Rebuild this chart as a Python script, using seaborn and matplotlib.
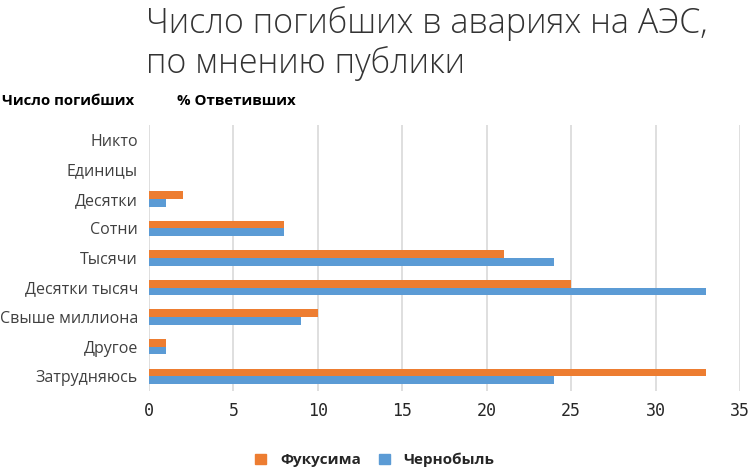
import matplotlib
matplotlib.use("Agg")
import matplotlib.pyplot as plt
import seaborn as sns
import pandas as pd
from matplotlib.patches import Patch

categories = ["Никто", "Единицы", "Десятки", "Сотни", "Тысячи", "Десятки тысяч",
              "Свыше миллиона", "Другое", "Затрудняюсь"]
fukushima = [0, 0, 2, 8, 21, 25, 10, 1, 33]
chernobyl = [0, 0, 1, 8, 24, 33, 9, 1, 24]
series = ["Фукусима", "Чернобыль"]
xticks = [0, 5, 10, 15, 20, 25, 30, 35]

df = pd.DataFrame({
    "cat": categories * 2,
    "val": fukushima + chernobyl,
    "series": [series[0]] * len(categories) + [series[1]] * len(categories),
})

sns.set_theme(style="white")
plt.rcParams['font.family'] = ['Open Sans', 'DejaVu Sans']

fig = plt.figure(figsize=(7.5, 4.7), dpi=100)
ax = fig.add_axes([0.1987, 0.168, 0.788, 0.566])

palette = {"Фукусима": "#ED7D31", "Чернобыль": "#5B9BD5"}
sns.barplot(data=df, x="val", y="cat", hue="series", order=categories,
            hue_order=series, palette=palette, width=0.52, ax=ax,
            saturation=1, legend=False, edgecolor="none")

ax.set_xlim(0, 35)
ax.set_xticks(xticks)
ax.set_xticklabels([str(t) for t in xticks], family="DejaVu Sans Mono", fontsize=12, color="#262626")
ax.tick_params(axis="x", length=0, pad=8)
ax.tick_params(axis="y", length=0, pad=8, labelsize=11.5, labelcolor="#404040")
for s in ax.spines.values():
    s.set_visible(False)
ax.grid(axis="x", color="#D9D9D9", linewidth=1.2)
ax.set_axisbelow(True)
ax.set_xlabel("")
ax.set_ylabel("")

fig.text(146/750, 1 - 6/470, "Число погибших в авариях на АЭС,\nпо мнению публики",
         fontsize=24.5, fontweight="light", color="#333333", ha="left", va="top",
         linespacing=1.2)
fig.text(2/750, 1 - 101/470, "Число погибших", fontsize=10.8, fontweight="bold",
         color="#000000", ha="left", va="center")
fig.text(177/750, 1 - 101/470, "% Ответивших", fontsize=10.8, fontweight="bold",
         color="#000000", ha="left", va="center")

handles = [Patch(color=palette[s], label=s) for s in series]
leg = fig.legend(handles=handles, loc="center", bbox_to_anchor=(0.5, 1 - 460/470),
                 ncol=2, frameon=False, handlelength=0.7, handleheight=0.7,
                 columnspacing=1.2, handletextpad=0.9,
                 prop={"weight": "bold", "size": 11})

fig.savefig("out.png", dpi=100)
